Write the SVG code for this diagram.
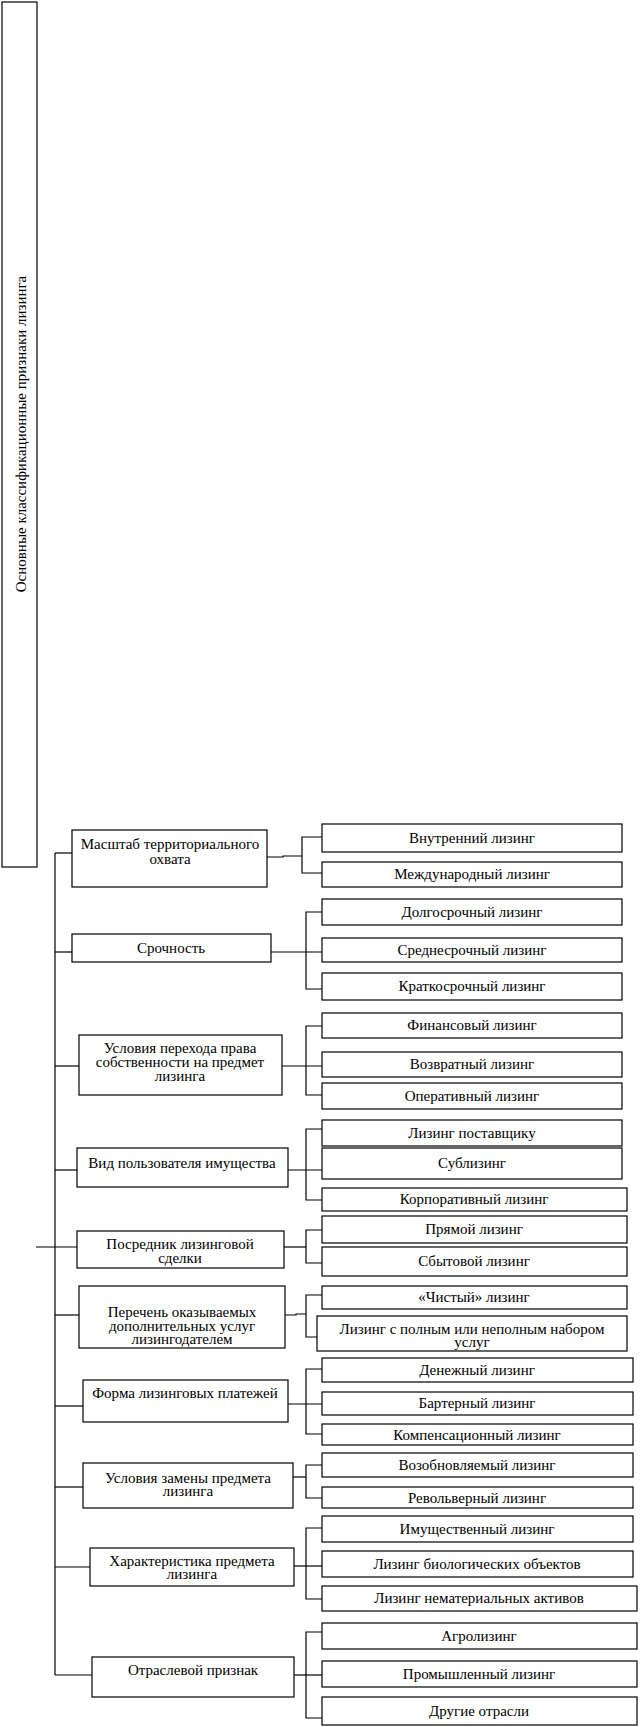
<svg xmlns="http://www.w3.org/2000/svg" width="640" height="1727" viewBox="0 0 640 1727">
<style>
.b{fill:#fff;stroke:#000;stroke-width:1.2}
text{font-family:"Liberation Serif","Times New Roman",serif;font-size:15px;fill:#000;text-anchor:middle}
.c line, .c polyline{stroke:#000;stroke-width:1.2;fill:none}
</style>
<rect width="640" height="1727" fill="#fff"/>
<g id="root"><rect class="b" x="2" y="2" width="35" height="865"/><text x="26" y="434" transform="rotate(-90 26 434)">Основные классификационные признаки  лизинга</text></g>
<g class="c" id="connectors">
<line x1="55" y1="853" x2="55" y2="1675"/>
<line x1="55" y1="853" x2="72" y2="853"/>
<line x1="55" y1="952" x2="72" y2="952"/>
<line x1="55" y1="1066" x2="79" y2="1066"/>
<line x1="55" y1="1170" x2="77" y2="1170"/>
<line x1="36" y1="1247" x2="77" y2="1247"/>
<line x1="55" y1="1315" x2="79" y2="1315"/>
<line x1="55" y1="1406" x2="83" y2="1406"/>
<line x1="55" y1="1487" x2="83" y2="1487"/>
<line x1="55" y1="1567" x2="90" y2="1567"/>
<line x1="55" y1="1675" x2="92" y2="1675"/>
<polyline points="267,857 283,857 283,856 302,856"/>
<polyline points="322,837 302,837 302,873 322,873"/>
<line x1="271" y1="952" x2="322" y2="952"/>
<polyline points="322,912 306,912 306,989 322,989"/>
<line x1="282" y1="1066" x2="322" y2="1066"/>
<polyline points="322,1026 306,1026 306,1095 322,1095"/>
<line x1="288" y1="1170" x2="322" y2="1170"/>
<polyline points="322,1129 306,1129 306,1200 322,1200"/>
<line x1="284" y1="1247" x2="306" y2="1247"/>
<polyline points="322,1230 306,1230 306,1263 322,1263"/>
<polyline points="285,1315 296,1315 296,1314 306,1314"/>
<polyline points="322,1295 306,1295 306,1337 317,1337"/>
<line x1="288" y1="1404" x2="322" y2="1404"/>
<polyline points="322,1369 306,1369 306,1434 322,1434"/>
<line x1="293" y1="1477" x2="306" y2="1477"/>
<polyline points="322,1465 306,1465 306,1498 322,1498"/>
<line x1="294" y1="1566" x2="322" y2="1566"/>
<polyline points="322,1528 306,1528 306,1599 322,1599"/>
<line x1="294" y1="1675" x2="322" y2="1675"/>
<polyline points="322,1632 306,1632 306,1718 322,1718"/>
</g>
<g id="p1"><rect class="b" x="72" y="830" width="195" height="57"/><text x="170" y="849">Масштаб территориального</text><text x="170" y="864">охвата</text></g>
<g id="p2"><rect class="b" x="72" y="934" width="199" height="28"/><text x="171" y="953">Срочность</text></g>
<g id="p3"><rect class="b" x="79" y="1035" width="203" height="60"/><text x="180" y="1053">Условия перехода  права</text><text x="180" y="1067">собственности на предмет</text><text x="180" y="1081">лизинга</text></g>
<g id="p4"><rect class="b" x="77" y="1148" width="211" height="39"/><text x="182" y="1168">Вид  пользователя имущества</text></g>
<g id="p5"><rect class="b" x="77" y="1231" width="207" height="37"/><text x="180" y="1249">Посредник лизинговой</text><text x="180" y="1263">сделки</text></g>
<g id="p6"><rect class="b" x="79" y="1286" width="206" height="62"/><text x="182" y="1317">Перечень  оказываемых</text><text x="182" y="1331">дополнительных услуг</text><text x="182" y="1344">лизингодателем</text></g>
<g id="p7"><rect class="b" x="83" y="1380" width="205" height="42"/><text x="185" y="1398">Форма  лизинговых платежей</text></g>
<g id="p8"><rect class="b" x="83" y="1463" width="210" height="45"/><text x="188" y="1483">Условия замены  предмета</text><text x="188" y="1496">лизинга</text></g>
<g id="p9"><rect class="b" x="90" y="1548" width="204" height="38"/><text x="192" y="1566">Характеристика предмета</text><text x="192" y="1579">лизинга</text></g>
<g id="p10"><rect class="b" x="92" y="1657" width="202" height="40"/><text x="193" y="1675">Отраслевой признак</text></g>
<g id="c1a"><rect class="b" x="322" y="824" width="300" height="28"/><text x="472" y="843">Внутренний лизинг</text></g>
<g id="c1b"><rect class="b" x="322" y="862" width="300" height="25"/><text x="472" y="879">Международный лизинг</text></g>
<g id="c2a"><rect class="b" x="322" y="899" width="300" height="26"/><text x="472" y="917">Долгосрочный лизинг</text></g>
<g id="c2b"><rect class="b" x="322" y="938" width="300" height="24"/><text x="472" y="955">Среднесрочный лизинг</text></g>
<g id="c2c"><rect class="b" x="322" y="973" width="300" height="27"/><text x="472" y="991">Краткосрочный лизинг</text></g>
<g id="c3a"><rect class="b" x="322" y="1013" width="300" height="25"/><text x="472" y="1030">Финансовый лизинг</text></g>
<g id="c3b"><rect class="b" x="322" y="1052" width="300" height="25"/><text x="472" y="1069">Возвратный лизинг</text></g>
<g id="c3c"><rect class="b" x="322" y="1083" width="300" height="26"/><text x="472" y="1101">Оперативный лизинг</text></g>
<g id="c4a"><rect class="b" x="322" y="1120" width="300" height="26"/><text x="472" y="1138">Лизинг поставщику</text></g>
<g id="c4b"><rect class="b" x="322" y="1148" width="300" height="31"/><text x="472" y="1168">Сублизинг</text></g>
<g id="c4c"><rect class="b" x="322" y="1188" width="305" height="23"/><text x="474" y="1204">Корпоративный  лизинг</text></g>
<g id="c5a"><rect class="b" x="322" y="1216" width="305" height="27"/><text x="474" y="1234">Прямой лизинг</text></g>
<g id="c5b"><rect class="b" x="322" y="1247" width="305" height="29"/><text x="474" y="1266">Сбытовой лизинг</text></g>
<g id="c6a"><rect class="b" x="322" y="1286" width="305" height="23"/><text x="474" y="1302">«Чистый» лизинг</text></g>
<g id="c6b"><rect class="b" x="317" y="1316" width="310" height="35"/><text x="472" y="1334">Лизинг с полным или неполным набором</text><text x="472" y="1347">услуг</text></g>
<g id="c7a"><rect class="b" x="322" y="1358" width="311" height="24"/><text x="477" y="1375">Денежный лизинг</text></g>
<g id="c7b"><rect class="b" x="322" y="1392" width="311" height="23"/><text x="477" y="1408">Бартерный лизинг</text></g>
<g id="c7c"><rect class="b" x="322" y="1424" width="311" height="21"/><text x="477" y="1440">Компенсационный лизинг</text></g>
<g id="c8a"><rect class="b" x="322" y="1453" width="311" height="24"/><text x="477" y="1470">Возобновляемый лизинг</text></g>
<g id="c8b"><rect class="b" x="322" y="1487" width="311" height="21"/><text x="477" y="1503">Револьверный лизинг</text></g>
<g id="c9a"><rect class="b" x="322" y="1516" width="311" height="26"/><text x="477" y="1534">Имущественный лизинг</text></g>
<g id="c9b"><rect class="b" x="322" y="1551" width="311" height="26"/><text x="477" y="1569">Лизинг биологических объектов</text></g>
<g id="c9c"><rect class="b" x="322" y="1586" width="315" height="25"/><text x="479" y="1603">Лизинг нематериальных активов</text></g>
<g id="c10a"><rect class="b" x="322" y="1623" width="315" height="26"/><text x="479" y="1641">Агролизинг</text></g>
<g id="c10b"><rect class="b" x="322" y="1661" width="315" height="26"/><text x="479" y="1679">Промышленный лизинг</text></g>
<g id="c10c"><rect class="b" x="322" y="1697" width="315" height="28"/><text x="479" y="1716">Другие отрасли</text></g>
</svg>
